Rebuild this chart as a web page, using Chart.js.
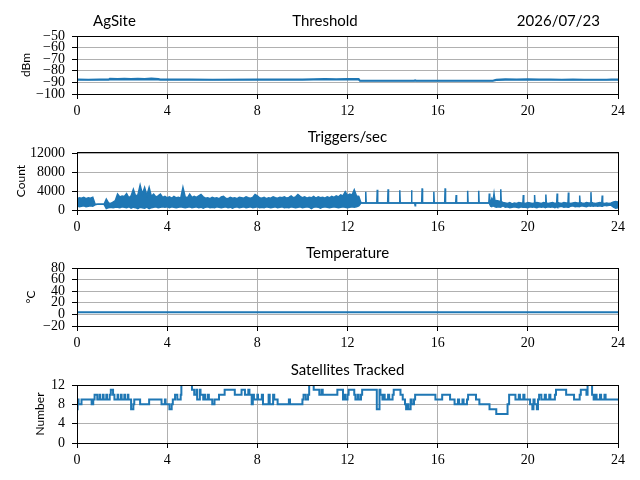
<!DOCTYPE html>
<html>
<head>
<meta charset="utf-8">
<script src="https://cdn.jsdelivr.net/npm/chart.js@4.4.1/dist/chart.umd.min.js"></script>
<style>
    html, body { margin: 0; background: #fff; }
    #wrap { position: relative; width: 640px; height: 480px; overflow: hidden; }
    canvas { position: absolute; left: 0; }
</style>
</head>
<body>
<div id="wrap">
    <canvas id="thr" width="640" height="114" style="top:10px"></canvas>
    <canvas id="trig" width="640" height="114" style="top:126px"></canvas>
    <canvas id="temp" width="640" height="114" style="top:242px"></canvas>
    <canvas id="sats" width="640" height="114" style="top:359px"></canvas>
</div>
<script>
// -- Data (hours since midnight) --
const xTicks = [0, 4, 8, 12, 16, 20, 24];

// Threshold, dBm: upper / lower edge of the noisy trace
const thrHours = [0, 0.5, 1.0, 1.4, 1.45, 1.8, 2.1, 2.4, 2.7, 3.0, 3.3, 3.6, 3.7, 5.0, 6.0, 8.0, 10.0, 10.5, 11.0, 11.5,
    12.0, 12.5, 12.55, 14.95, 15.0, 15.05, 18.45, 18.6, 19.0, 19.5, 20.0, 20.5, 21.0, 21.5, 22.0, 22.5, 23.0, 23.5, 23.7, 24.0];
const thrHigh = [-87.3, -87.4, -87.3, -87.3, -86.7, -86.9, -86.6, -86.9, -86.7, -86.9, -86.5, -86.8, -87.3, -87.3, -87.4, -87.3, -87.3, -87.0, -86.9, -87.0,
    -86.8, -86.9, -88.3, -88.3, -87.9, -88.3, -88.3, -87.4, -87.1, -87.3, -87.1, -87.3, -87.2, -87.4, -87.2, -87.4, -87.6, -87.5, -87.2, -87.2];
const thrLow = [-88.0, -88.0, -88.0, -87.9, -87.7, -87.6, -87.7, -87.6, -87.7, -87.6, -87.7, -87.7, -87.9, -88.0, -88.0, -87.9, -87.9, -87.8, -87.8, -87.7,
    -87.7, -87.8, -88.7, -88.7, -88.7, -88.7, -88.7, -88.1, -88.0, -88.0, -88.0, -88.0, -88.0, -88.0, -88.0, -88.0, -88.0, -88.0, -88.0, -88.0];

// Triggers/sec: upper / lower edge of the trace
const trigHours = [
    0.0, 0.1, 0.2, 0.3, 0.4, 0.5, 0.6, 0.7, 0.8, 0.9,
    1.0, 1.1, 1.2, 1.3, 1.4, 1.5, 1.6, 1.7, 1.8, 1.9,
    2.0, 2.1, 2.2, 2.3, 2.4, 2.5, 2.6, 2.7, 2.8, 2.9,
    3.0, 3.1, 3.2, 3.3, 3.4, 3.5, 3.6, 3.7, 3.8, 3.9,
    4.0, 4.1, 4.2, 4.3, 4.4, 4.5, 4.6, 4.7, 4.8, 4.9,
    5.0, 5.1, 5.2, 5.3, 5.4, 5.5, 5.6, 5.7, 5.8, 5.9,
    6.0, 6.1, 6.2, 6.3, 6.4, 6.5, 6.6, 6.7, 6.8, 6.9,
    7.0, 7.1, 7.2, 7.3, 7.4, 7.5, 7.6, 7.7, 7.8, 7.9,
    8.0, 8.1, 8.2, 8.3, 8.4, 8.5, 8.6, 8.7, 8.8, 8.9,
    9.0, 9.1, 9.2, 9.3, 9.4, 9.5, 9.6, 9.7, 9.8, 9.9,
    10.0, 10.1, 10.2, 10.3, 10.4, 10.5, 10.6, 10.7, 10.8, 10.9,
    11.0, 11.1, 11.2, 11.3, 11.4, 11.5, 11.6, 11.7, 11.8, 11.9,
    12.0, 12.1, 12.2, 12.3, 12.4, 12.5, 12.6,
    12.79, 12.81, 12.83, 13.30, 13.32, 13.34, 13.78, 13.80, 13.82, 14.30, 14.32, 14.34,
    14.82, 14.84, 14.86, 14.98, 15.00, 15.02, 15.29, 15.31, 15.33, 15.81, 15.83, 15.85,
    16.31, 16.33, 16.35, 16.80, 16.82, 16.84, 17.31, 17.33, 17.35, 17.80, 17.82, 17.84,
    18.27, 18.29, 18.31,
    18.35, 18.4, 18.45, 18.5, 18.55, 18.6, 18.7, 18.78, 18.8, 18.82, 18.9,
    19.0, 19.1, 19.2, 19.3, 19.4, 19.5, 19.6, 19.7, 19.78, 19.8, 19.82, 19.9,
    20.0, 20.1, 20.2, 20.28, 20.3, 20.32, 20.4, 20.5, 20.6, 20.7, 20.78, 20.8, 20.82, 20.9,
    21.0, 21.1, 21.2, 21.28, 21.3, 21.32, 21.4, 21.5, 21.6, 21.7, 21.78, 21.8, 21.82, 21.9,
    22.0, 22.1, 22.2, 22.28, 22.3, 22.32, 22.4, 22.5, 22.6, 22.7, 22.78, 22.8, 22.82, 22.9,
    23.0, 23.1, 23.2, 23.28, 23.3, 23.32, 23.4, 23.5, 23.6, 23.7, 23.8, 23.9, 24.0
];
const trigHigh = [
    2300, 2600, 2500, 2700, 2400, 2600, 2500, 2700, 1300, 1200,
    1200, 1200, 1200, 2300, 1500, 1400, 1700, 2000, 3400, 2800,
    3000, 2900, 3500, 2600, 3000, 4400, 3000, 3200, 5300, 3400,
    4800, 3100, 4800, 2900, 3400, 2800, 3000, 3400, 2700, 2900,
    2600, 2800, 2500, 2900, 2600, 2700, 2500, 4800, 2800, 2600,
    3400, 2700, 2900, 2700, 3000, 3300, 2800, 2500, 2600, 2400,
    2700, 2500, 2600, 2400, 2800, 2900, 2500, 2400, 2700, 2500,
    2600, 2400, 2700, 2600, 2500, 2800, 2600, 2500, 2700, 3300,
    3000, 2600, 2500, 2700, 2400, 2600, 2500, 2800, 2600, 2500,
    2700, 2600, 2800, 2500, 2700, 3000, 2600, 2800, 3300, 2900,
    2600, 2800, 2500, 2700, 2600, 2900, 2500, 2800, 2600, 2700,
    2500, 2800, 2600, 2900, 2700, 3000, 2800, 3200, 3000, 3900,
    3100, 3400, 3200, 4300, 3000, 2900, 1500,
    1500, 3900, 1500, 1500, 4300, 1500, 1500, 4400, 1500, 1500, 4200, 1500,
    1500, 4200, 1500, 1500, 1500, 1500, 1500, 4600, 1500, 1500, 3900, 1500,
    1500, 4600, 1500, 1500, 3200, 1500, 1500, 4100, 1500, 1500, 4100, 1500,
    1500, 3500, 1500,
    1700, 2400, 1800, 3500, 1700, 2000, 1900, 1800, 4400, 1800, 1600,
    1500, 1400, 1600, 1300, 1500, 1400, 1600, 1500, 1500, 3200, 1500, 1400,
    1600, 1500, 1400, 1500, 3200, 1500, 1600, 1500, 1400, 1600, 1500, 3300, 1500, 1400,
    1500, 1600, 1400, 1500, 3500, 1600, 1500, 1400, 1600, 1500, 1500, 3700, 1500, 1400,
    1500, 1600, 1500, 1500, 3100, 1600, 1500, 1400, 1600, 1500, 1500, 3800, 1600, 1500,
    1400, 1500, 1600, 1500, 3100, 1500, 1400, 1500, 1400, 1500, 1700, 1800, 1700
];
const trigLow = [
    900, 700, 800, 900, 700, 800, 900, 800, 1100, 1200,
    1200, 1200, 1200, 300, 500, 600, 500, 600, 600, 500,
    700, 600, 500, 700, 400, 600, 500, 300, 600, 500,
    400, 600, 300, 500, 600, 700, 500, 600, 700, 600,
    700, 500, 700, 600, 500, 600, 700, 600, 500, 600,
    700, 500, 600, 700, 500, 600, 400, 600, 700, 500,
    600, 500, 700, 600, 500, 600, 700, 500, 600, 400,
    600, 700, 500, 600, 700, 500, 600, 700, 500, 600,
    700, 500, 600, 500, 700, 600, 500, 600, 700, 500,
    600, 700, 500, 600, 500, 700, 600, 500, 600, 700,
    500, 600, 700, 600, 300, 600, 700, 600, 400, 600,
    700, 600, 500, 600, 700, 600, 500, 600, 700, 600,
    500, 600, 700, 600, 700, 900, 1500,
    1500, 1500, 1500, 1500, 1500, 1500, 1500, 1500, 1500, 1500, 1500, 1500,
    1500, 1500, 1500, 1500, 900, 1500, 1500, 1500, 1500, 1500, 1500, 1500,
    1500, 1500, 1500, 1500, 1500, 1500, 1500, 1500, 1500, 1500, 1500, 1500,
    1500, 1500, 1500,
    800, 700, 900, 800, 700, 600, 700, 600, 600, 700, 900,
    600, 700, 500, 600, 700, 600, 500, 700, 600, 600, 700, 600,
    500, 700, 600, 700, 700, 600, 500, 700, 600, 700, 500, 500, 600, 700,
    600, 700, 500, 700, 700, 600, 700, 800, 600, 700, 600, 600, 700, 800,
    900, 700, 800, 700, 700, 800, 900, 800, 700, 900, 800, 800, 900, 800,
    900, 800, 900, 800, 800, 900, 1000, 900, 1000, 1000, 600, 400, 500
];

// Temperature, deg C
const tempHours = [0, 6, 12, 18, 24];
const tempValues = [3.8, 3.8, 3.8, 3.8, 3.8];

// Satellites tracked: value held from each time until the next one
const satHours = [
    0, 0.03, 0.07, 0.2, 0.65, 0.72, 0.78, 0.9, 1.0, 1.03,
    1.15, 1.18, 1.3, 1.33, 1.45, 1.5, 1.6, 1.66, 1.8, 1.83,
    1.95, 1.98, 2.1, 2.13, 2.25, 2.28, 2.4, 2.5, 2.54, 2.8,
    3.2, 3.75, 3.9, 3.93, 4.1, 4.2, 4.25, 4.35, 4.45, 4.6,
    4.63, 5.1, 5.2, 5.3, 5.33, 5.45, 5.48, 5.6, 5.65, 5.68,
    5.8, 5.85, 6.0, 6.1, 6.3, 6.55, 7.0, 7.3, 7.45, 7.6,
    7.65, 7.75, 7.8, 7.85, 8.0, 8.03, 8.2, 8.25, 8.5, 8.55,
    8.7, 8.75, 8.9, 9.4, 9.45, 10.0, 10.05, 10.15, 10.25, 10.3,
    10.5, 10.75, 10.85, 10.9, 11.55, 11.8, 11.85, 11.9, 12.0, 12.05,
    12.3, 12.35, 12.45, 12.5, 12.6, 12.65, 13.3, 13.42, 13.46, 13.55,
    13.6, 13.65, 13.8, 13.85, 14.0, 14.05, 14.35, 14.45, 14.55, 14.6,
    14.65, 14.7, 14.8, 14.85, 14.95, 15.0, 15.9, 16.2, 16.55, 16.75,
    16.9, 16.95, 17.1, 17.15, 17.3, 17.35, 17.7, 17.85, 18.3, 18.6,
    19.1, 19.17, 19.45, 19.6, 19.65, 19.8, 19.85, 20.1, 20.2, 20.25,
    20.3, 20.4, 20.45, 20.5, 20.6, 20.75, 20.8, 20.95, 21.0, 21.2,
    21.25, 21.7, 22.05, 22.3, 22.35, 22.6, 22.65, 22.85, 22.92, 23.0,
    23.05, 23.2, 23.25, 23.4, 23.45, 23.7, 24
];
const satValues = [
    9, 7, 9, 8, 9, 8, 9, 10, 9, 10,
    9, 10, 9, 10, 9, 10, 11, 10, 9, 10,
    9, 10, 9, 10, 9, 10, 9, 7, 8, 9,
    8, 9, 8, 9, 8, 7, 8, 9, 10, 9,
    10, 12, 11, 10, 11, 9, 11, 10, 9, 10,
    9, 10, 9, 8, 9, 10, 11, 10, 11, 10,
    11, 10, 8, 10, 9, 10, 9, 10, 8, 10,
    8, 10, 9, 8, 9, 8, 9, 10, 9, 10,
    12, 11, 10, 11, 10, 11, 9, 10, 9, 10,
    11, 10, 9, 10, 9, 10, 11, 7, 11, 10,
    9, 10, 9, 10, 9, 10, 11, 10, 9, 8,
    7, 8, 7, 9, 8, 9, 10, 9, 10, 9,
    8, 9, 8, 9, 8, 9, 10, 9, 8, 7,
    6, 8, 10, 9, 10, 9, 10, 9, 8, 7,
    9, 8, 7, 9, 10, 9, 10, 9, 10, 9,
    10, 11, 10, 9, 10, 11, 10, 12, 10, 9,
    10, 9, 10, 9, 10, 9, 9
];

// -- Style --
const BLUE = '#1f77b4';
const GRID = '#b0b0b0';
const TICK_FONT = { family: "'Liberation Serif', 'DejaVu Serif', serif", size: 14 };
const LABEL_FONT = { family: "Lato, 'DejaVu Sans', sans-serif", size: 12 };
const TITLE_FONT = "15px Lato, 'DejaVu Sans', sans-serif";

// frame round the plot area + panel titles
const framePlugin = {
    id: 'frame',
    afterDraw(chart, args, opts) {
        const { ctx, chartArea: a } = chart;
        ctx.save();
        ctx.strokeStyle = '#000';
        ctx.lineWidth = 1;
        ctx.strokeRect(Math.round(a.left) + 0.5, Math.round(a.top) + 0.5,
            Math.round(a.right - a.left), Math.round(a.bottom - a.top));
        ctx.fillStyle = '#000';
        ctx.font = TITLE_FONT;
        ctx.textBaseline = 'alphabetic';
        (opts.titles || []).forEach(t => {
            ctx.textAlign = t.align;
            ctx.fillText(t.text, t.x, a.top - 10);
        });
        ctx.restore();
    }
};

function fmtTick(v) {
    return v < 0 ? '\u2212' + (-v) : String(v);
}

function pts(xs, ys) {
    return xs.map((x, i) => ({ x: x, y: ys[i] }));
}

function line(xs, ys, extra) {
    return Object.assign({
        data: pts(xs, ys),
        showLine: true,
        borderColor: BLUE,
        backgroundColor: BLUE,
        borderWidth: 2,
        pointRadius: 0,
        fill: false,
        tension: 0
    }, extra || {});
}

// upper + lower edge, area between filled
function band(xs, hi, lo) {
    return [
        line(xs, hi, { borderWidth: 1.5 }),
        line(xs, lo, { borderWidth: 1.5, fill: '-1' })
    ];
}

function makePanel(id, datasets, y, yTitle, titlePad, titles) {
    return new Chart(document.getElementById(id), {
        type: 'scatter',
        data: { datasets: datasets },
        plugins: [framePlugin],
        options: {
            responsive: false,
            animation: false,
            layout: { padding: { top: 26, right: 22, bottom: 0, left: 0 } },
            plugins: {
                legend: { display: false },
                tooltip: { enabled: false },
                frame: { titles: titles }
            },
            scales: {
                x: {
                    type: 'linear',
                    min: xTicks[0],
                    max: xTicks[xTicks.length - 1],
                    afterBuildTicks: s => { s.ticks = xTicks.map(v => ({ value: v })); },
                    ticks: { font: TICK_FONT, color: '#000', padding: 4, maxRotation: 0, autoSkip: false, callback: fmtTick },
                    grid: { color: GRID, lineWidth: 1, tickColor: '#000', tickLength: 5 },
                    border: { display: false },
                    afterFit: s => { s.height = 30; }
                },
                y: {
                    type: 'linear',
                    min: y.min,
                    max: y.max,
                    bounds: 'data',
                    afterBuildTicks: s => { s.ticks = y.ticks.map(v => ({ value: v })); },
                    ticks: { font: TICK_FONT, color: '#000', padding: 7, autoSkip: false, callback: fmtTick },
                    grid: { color: GRID, lineWidth: 1, tickColor: '#000', tickLength: 5 },
                    border: { display: false },
                    title: { display: true, text: yTitle, font: LABEL_FONT, color: '#000', padding: { top: titlePad, bottom: 0 } },
                    afterFit: s => { s.width = 77; }
                }
            }
        }
    });
}

makePanel('thr', band(thrHours, thrHigh, thrLow),
    { min: -100, max: -50, ticks: [-100, -90, -80, -70, -60, -50] }, 'dBm', 19,
    [{ text: 'AgSite', x: 93, align: 'left' },
     { text: 'Threshold', x: 325, align: 'center' },
     { text: '2026/07/23', x: 600, align: 'right' }]);

makePanel('trig', band(trigHours, trigHigh, trigLow),
    { min: 0, max: 12350, ticks: [0, 4000, 8000, 12000] }, 'Count', 14,
    [{ text: 'Triggers/sec', x: 347.5, align: 'center' }]);

makePanel('temp', [line(tempHours, tempValues)],
    { min: -20, max: 80, ticks: [-20, 0, 20, 40, 60, 80] }, '\u00b0C', 24,
    [{ text: 'Temperature', x: 347.5, align: 'center' }]);

makePanel('sats', [line(satHours, satValues, { stepped: 'after' })],
    { min: 0, max: 12, ticks: [0, 4, 8, 12] }, 'Number', 33,
    [{ text: 'Satellites Tracked', x: 347.5, align: 'center' }]);
</script>
</body>
</html>
